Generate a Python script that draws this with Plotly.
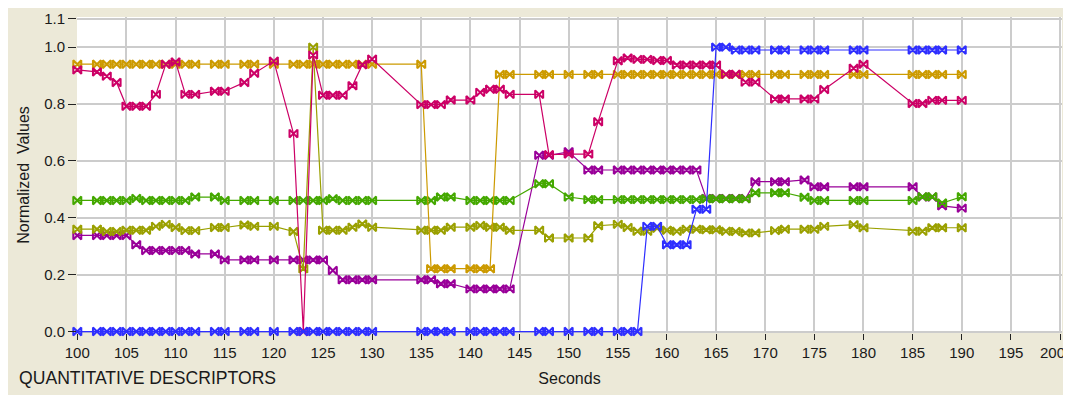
import plotly.graph_objects as go

seconds = [100, 102, 103, 104, 105, 106, 107, 108, 109, 110, 111, 112, 114, 115,
           117, 118, 120, 122, 123, 124, 125, 126, 127, 128, 129, 130,
           135, 136, 137, 138, 140, 141, 142, 143, 144,
           147, 148, 150, 152, 153,
           155, 156, 157, 158, 159, 160, 161, 162, 163, 164, 165, 166, 167, 168, 169,
           171, 172, 174, 175, 176,
           179, 180,
           185, 186, 187, 188, 190]

blue = [0.0] * 43 + [0.37, 0.37, 0.305, 0.305, 0.305, 0.43, 0.43, 1.0, 1.0] + [0.99] * 15

crimson = [0.92, 0.913, 0.898, 0.876, 0.792, 0.792, 0.792, 0.834, 0.94, 0.948, 0.834, 0.834, 0.845, 0.845,
           0.876, 0.908, 0.951, 0.696, 0.0, 0.972, 0.831, 0.831, 0.831, 0.864, 0.938, 0.958,
           0.798, 0.798, 0.798, 0.814, 0.814, 0.841, 0.852, 0.852, 0.834,
           0.834, 0.622, 0.624, 0.624, 0.738,
           0.952, 0.962, 0.957, 0.957, 0.953, 0.953, 0.937, 0.937, 0.937, 0.937, 0.937, 0.905, 0.905, 0.877, 0.877,
           0.818, 0.818, 0.818, 0.818, 0.851,
           0.926, 0.94,
           0.802, 0.802, 0.813, 0.813, 0.813]

gold = [0.94] * 27 + [0.221] * 6 + [0.904] * 34

green = [0.461, 0.461, 0.461, 0.461, 0.461, 0.468, 0.461, 0.461, 0.461, 0.461, 0.461, 0.473, 0.473, 0.461,
         0.461, 0.461, 0.461, 0.461, 0.461, 0.461, 0.461, 0.467, 0.461, 0.461, 0.461, 0.461,
         0.461, 0.461, 0.473, 0.473, 0.461, 0.461, 0.461, 0.461, 0.461,
         0.52, 0.52, 0.473, 0.464, 0.464,
         0.464, 0.464, 0.464, 0.464, 0.464, 0.464, 0.464, 0.464, 0.464, 0.467, 0.467, 0.467, 0.467, 0.467, 0.488,
         0.488, 0.488, 0.472, 0.461, 0.461,
         0.461, 0.461,
         0.461, 0.474, 0.474, 0.452, 0.474]

olive = [0.36, 0.36, 0.352, 0.352, 0.356, 0.356, 0.356, 0.37, 0.377, 0.366, 0.355, 0.355, 0.366, 0.366,
         0.375, 0.37, 0.37, 0.352, 0.221, 1.0, 0.356, 0.356, 0.356, 0.367, 0.378, 0.367,
         0.356, 0.356, 0.356, 0.367, 0.367, 0.373, 0.367, 0.367, 0.356,
         0.356, 0.329, 0.329, 0.329, 0.372,
         0.377, 0.366, 0.353, 0.353, 0.363, 0.356, 0.353, 0.36, 0.36, 0.358, 0.358, 0.353, 0.352, 0.347, 0.347,
         0.355, 0.36, 0.36, 0.36, 0.37,
         0.376, 0.365,
         0.353, 0.353, 0.365, 0.365, 0.365]

purple = [0.338, 0.338, 0.338, 0.338, 0.338, 0.305, 0.285, 0.285, 0.285, 0.285, 0.285, 0.273, 0.273, 0.252,
          0.252, 0.252, 0.252, 0.252, 0.252, 0.252, 0.252, 0.215, 0.182, 0.182, 0.182, 0.182,
          0.182, 0.182, 0.168, 0.168, 0.15, 0.15, 0.15, 0.15, 0.15,
          0.62, 0.62, 0.632, 0.568, 0.568,
          0.568, 0.568, 0.568, 0.568, 0.568, 0.568, 0.568, 0.568, 0.568, 0.468, 0.468, 0.468, 0.468, 0.468, 0.527,
          0.527, 0.527, 0.533, 0.509, 0.509,
          0.509, 0.509,
          0.509, 0.473, 0.473, 0.442, 0.434]

# drawing order: first is at the bottom
series = [
    ("Descriptor 5", purple, "#990099"),
    ("Descriptor 4", olive, "#9AA000"),
    ("Descriptor 3", green, "#44A800"),
    ("Descriptor 2", gold, "#CC9A00"),
    ("Descriptor 6", crimson, "#CC0066"),
    ("Descriptor 1", blue, "#2E2EFF"),
]

x_ticks = list(range(100, 201, 5))
x_labels = [str(v) for v in x_ticks[:-1]] + [""]   # last label drawn separately so it stays inside the page
y_ticks = [0.0, 0.2, 0.4, 0.6, 0.8, 1.0, 1.1]
y_labels = ["0.0", "0.2", "0.4", "0.6", "0.8", "1.0", "1.1"]

fig = go.Figure()
for name, vals, col in series:
    fig.add_trace(go.Scatter(
        x=seconds, y=vals, name=name, mode="lines+markers",
        line=dict(color=col, width=1.2),
        marker=dict(symbol="bowtie-open", size=8, color=col, line=dict(width=2, color=col)),
        showlegend=False, cliponaxis=False,
    ))

font = "Liberation Sans, Arial, sans-serif"
fig.update_layout(
    width=1063, height=387,
    paper_bgcolor="#ECE9D8", plot_bgcolor="#FFFFFF",
    margin=dict(l=69, r=9, t=9, b=62, autoexpand=False),
    font=dict(family=font, size=15, color="#1a1a1a"),
    xaxis=dict(range=[99.97, 200.2], tickvals=x_ticks, ticktext=x_labels, showgrid=True,
               gridcolor="#CCCCCC", gridwidth=2,
               ticks="outside", ticklen=6, tickcolor="#222", tickwidth=1, zeroline=False, showline=False,
               automargin=False,
               title=dict(text="Seconds", font=dict(size=16), standoff=12)),
    yaxis=dict(range=[-0.005, 1.106], tickvals=y_ticks, ticktext=y_labels, showgrid=True,
               gridcolor="#CCCCCC", gridwidth=2, ticks="outside", ticklen=8, tickcolor="#222",
               zeroline=False, showline=False, automargin=False,
               title=dict(text="Normalized  Values", font=dict(size=16), standoff=10)),
    annotations=[
        dict(text="QUANTITATIVE DESCRIPTORS", xref="paper", yref="paper", x=-0.061, y=-0.105,
             xanchor="left", yanchor="top", showarrow=False, font=dict(size=17.6)),
        dict(text=str(x_ticks[-1]), xref="x", yref="paper", x=x_ticks[-1], y=0, xanchor="right",
             yanchor="top", xshift=7, yshift=-9, showarrow=False, font=dict(size=15)),
    ],
)

fig.write_html("out.html")
